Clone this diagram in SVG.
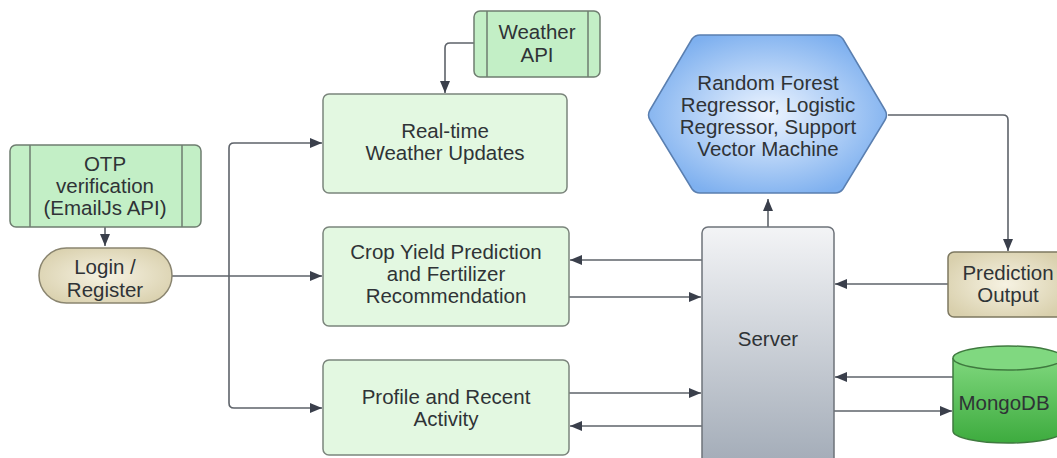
<svg xmlns="http://www.w3.org/2000/svg" width="1057" height="458" viewBox="0 0 1057 458">
<style>
text{font-family:"Liberation Sans",Arial,sans-serif;font-size:20.5px;fill:#2f3336;text-anchor:middle;dominant-baseline:central}
.box{fill:#e3f8e1;stroke:#7b857c;stroke-width:1.5}
.api{fill:#c3efc6;stroke:#6f7d70;stroke-width:1.5}
.c{fill:none;stroke:#5e636a;stroke-width:1.6}
</style>
<defs>
<marker id="ah" viewBox="0 0 12 10" refX="12" refY="5" markerWidth="12" markerHeight="10" markerUnits="userSpaceOnUse" orient="auto">
<path d="M0,0 L12,5 L0,10 Z" fill="#3a3f4b"/>
</marker>
<radialGradient id="beige" cx="0.5" cy="0.5" r="0.6">
<stop offset="0" stop-color="#f6f2e2"/><stop offset="1" stop-color="#d9d0ad"/>
</radialGradient>
<radialGradient id="blue" cx="0.5" cy="0.5" r="0.55">
<stop offset="0" stop-color="#eef5ff"/><stop offset="1" stop-color="#7eb0ef"/>
</radialGradient>
<linearGradient id="srv" x1="0" y1="0" x2="0" y2="1">
<stop offset="0" stop-color="#f3f4f6"/><stop offset="1" stop-color="#a2abb7"/>
</linearGradient>
<linearGradient id="mongo" x1="0" y1="0" x2="0" y2="1">
<stop offset="0" stop-color="#7fd77d"/><stop offset="1" stop-color="#3dab3e"/>
</linearGradient>
</defs>

<g id="connectors">
<path class="c" d="M105,227 V246" marker-end="url(#ah)"/>
<path class="c" d="M172,276 H322" marker-end="url(#ah)"/>
<path class="c" d="M229,276 V148 Q229,143 234,143 H322" marker-end="url(#ah)"/>
<path class="c" d="M229,276 V403 Q229,408 234,408 H322" marker-end="url(#ah)"/>
<path class="c" d="M474,43 H450 Q445,43 445,48 V93" marker-end="url(#ah)"/>
<path class="c" d="M702,260 H570" marker-end="url(#ah)"/>
<path class="c" d="M569,297 H701" marker-end="url(#ah)"/>
<path class="c" d="M569,393 H701" marker-end="url(#ah)"/>
<path class="c" d="M702,426 H570" marker-end="url(#ah)"/>
<path class="c" d="M768,227 V199" marker-end="url(#ah)"/>
<path class="c" d="M888,115 H1003 Q1008,115 1008,120 V251" marker-end="url(#ah)"/>
<path class="c" d="M948,284 H835" marker-end="url(#ah)"/>
<path class="c" d="M953,377 H835" marker-end="url(#ah)"/>
<path class="c" d="M834,411 H952" marker-end="url(#ah)"/>
</g>

<g id="otp">
<rect class="api" x="10" y="145" width="191" height="82" rx="6"/>
<path d="M30,145 V227 M182,145 V227" stroke="#6f7d70" stroke-width="1.5"/>
<text x="105" y="163">OTP</text>
<text x="105" y="185">verification</text>
<text x="105" y="207">(EmailJs API)</text>
</g>

<g id="login">
<rect x="39" y="248" width="133" height="55" rx="27.5" fill="url(#beige)" stroke="#8a8570" stroke-width="1.5"/>
<text x="105" y="266">Login /</text>
<text x="105" y="289">Register</text>
</g>

<g id="weather-api">
<rect class="api" x="474" y="11" width="126" height="66" rx="6"/>
<path d="M487,11 V77 M588,11 V77" stroke="#6f7d70" stroke-width="1.5"/>
<text x="537" y="31">Weather</text>
<text x="537" y="54">API</text>
</g>

<g id="realtime">
<rect class="box" x="323" y="94" width="244" height="99" rx="6"/>
<text x="445" y="130">Real-time</text>
<text x="445" y="152">Weather Updates</text>
</g>

<g id="crop">
<rect class="box" x="323" y="227" width="246" height="99" rx="6"/>
<text x="446" y="251">Crop Yield Prediction</text>
<text x="446" y="273">and Fertilizer</text>
<text x="446" y="295">Recommendation</text>
</g>

<g id="profile">
<rect class="box" x="323" y="360" width="246" height="95" rx="6"/>
<text x="446" y="396">Profile and Recent</text>
<text x="446" y="418">Activity</text>
</g>

<g id="model">
<path d="M650,110 L692,39 Q695,35 700,35 H835 Q840,35 843,39 L885,110 Q888,115 885,120 L843,189 Q840,193 835,193 H700 Q695,193 692,189 L650,120 Q647,115 650,110 Z" fill="url(#blue)" stroke="#5a7fb0" stroke-width="1.5"/>
<text x="768" y="82">Random Forest</text>
<text x="768" y="104">Regressor, Logistic</text>
<text x="768" y="126">Regressor, Support</text>
<text x="768" y="148">Vector Machine</text>
</g>

<g id="server">
<rect x="702" y="227" width="132" height="240" rx="6" fill="url(#srv)" stroke="#6e737a" stroke-width="1.5"/>
<text x="768" y="338">Server</text>
</g>

<g id="prediction">
<rect x="948" y="252" width="115" height="65" rx="6" fill="url(#beige)" stroke="#7d7860" stroke-width="1.5"/>
<text x="1008" y="272">Prediction</text>
<text x="1008" y="294">Output</text>
</g>

<g id="mongodb">
<path d="M953,358 V431 A55,12 0 0 0 1063,431 V358" fill="url(#mongo)" stroke="#3f7a3f" stroke-width="1.5"/>
<ellipse cx="1008" cy="358" rx="55" ry="12" fill="#80d880" stroke="#3f7a3f" stroke-width="1.5"/>
<text x="1004" y="402">MongoDB</text>
</g>
</svg>
